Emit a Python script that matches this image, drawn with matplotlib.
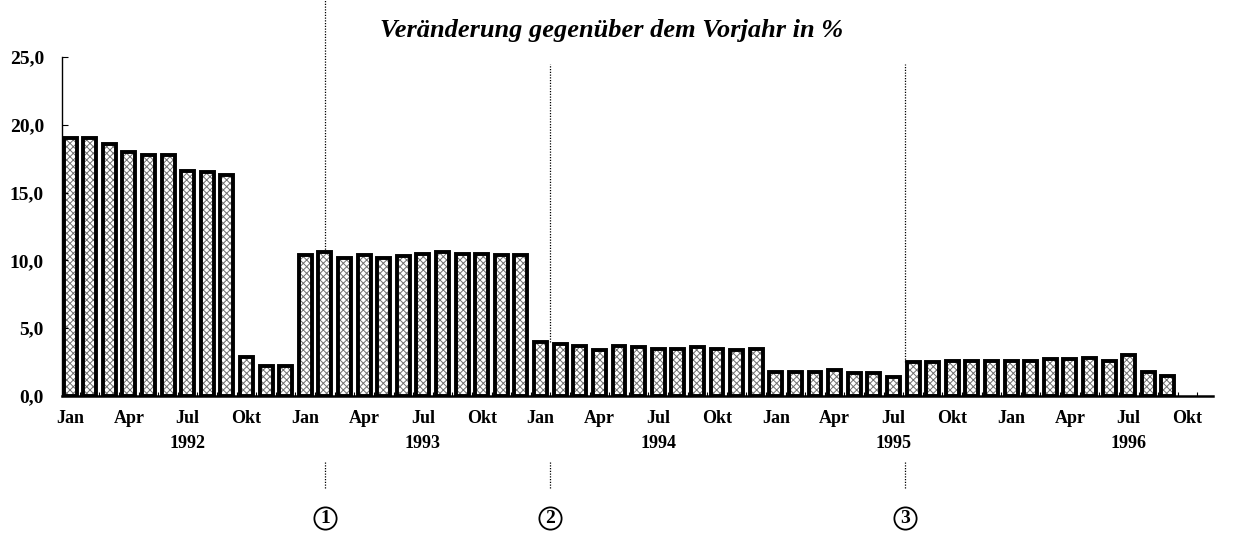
import numpy as np
import matplotlib
matplotlib.use('Agg')
import matplotlib.pyplot as plt

plt.rcParams['font.family'] = ['Liberation Serif', 'DejaVu Serif']
plt.rcParams['hatch.linewidth'] = 0.7

# monthly values, Jan 1992 .. Sep 1996
v1992 = [19.0, 19.0, 18.6, 18.0, 17.8, 17.8, 16.6, 16.5, 16.3, 2.9, 2.2, 2.2]
v1993 = [10.4, 10.6, 10.2, 10.4, 10.2, 10.3, 10.5, 10.6, 10.5, 10.5, 10.4, 10.4]
v1994 = [4.0, 3.8, 3.7, 3.4, 3.7, 3.6, 3.5, 3.5, 3.6, 3.5, 3.4, 3.5]
v1995 = [1.8, 1.8, 1.8, 1.9, 1.7, 1.7, 1.4, 2.5, 2.5, 2.6, 2.6, 2.6]
v1996 = [2.6, 2.6, 2.7, 2.7, 2.8, 2.6, 3.0, 1.8, 1.5]

month_names = ['Jan', 'Apr', 'Jul', 'Okt']
years = ['1992', '1993', '1994', '1995', '1996']
title = 'Veränderung gegenüber dem Vorjahr in %'

# marked events: (month index, label)
markers = [(13.0, '1'), (24.5, '2'), (42.6, '3')]

values = np.array(v1992 + v1993 + v1994 + v1995 + v1996)
x = np.arange(len(values))

fig = plt.figure(figsize=(12.33, 5.35), dpi=100)
ax = fig.add_axes([62/1233, 1-396/535, (1213-62)/1233, (396-57)/535])

ax.bar(x, values, width=0.66, color='white', edgecolor='#707070',
       hatch='xxxxx', linewidth=0)
ax.bar(x, values, width=0.66, fill=False, edgecolor='black', linewidth=2.8)

ax.set_xlim(-0.41, 58.3)
ax.set_ylim(0, 25)

ax.spines['top'].set_visible(False)
ax.spines['right'].set_visible(False)
ax.spines['bottom'].set_linewidth(1.8)
ax.spines['left'].set_linewidth(1.0)

yt = np.arange(0, 26, 5)
ax.set_yticks(yt)
ax.set_yticklabels([f'{v:.1f}'.replace('.', ',') for v in yt],
                   fontsize=14, fontweight='bold')
ax.tick_params(axis='y', direction='in', length=4, pad=13)

xt = np.arange(0, 58, 3)
ax.set_xticks(xt)
ax.set_xticklabels([month_names[i % 4] for i in range(len(xt))],
                   fontsize=13, fontweight='bold')
ax.tick_params(axis='x', length=0, pad=10)
ax.set_xticks(np.arange(0.5, 58, 1), minor=True)
ax.tick_params(axis='x', which='minor', direction='in', length=3, width=0.8)

for i, yr in enumerate(years):
    ax.text(6 + 12*i, -3.5, yr, ha='center', va='center', fontsize=13,
            fontweight='bold', clip_on=False)

# dotted event lines
for (m, lab) in markers:
    top_v = values[int(round(m))]
    ytop = 29.2 if lab == '1' else 24.5
    ax.plot([m, m], [top_v, ytop], color='black', linestyle=(0, (1, 1.2)),
            linewidth=0.9, clip_on=False)
    ax.plot([m, m], [-4.9, -6.8], color='black', linestyle=(0, (1, 1.2)),
            linewidth=0.9, clip_on=False)
    ax.plot([m], [-9.0], marker='o', markersize=16, markerfacecolor='white',
            markeredgecolor='black', markeredgewidth=1.3, clip_on=False)
    ax.text(m, -9.05, lab, ha='center', va='center', fontsize=14,
            fontweight='bold', clip_on=False)

fig.text(612/1233, 1-30/535, title, ha='center', va='center', fontsize=19,
         fontweight='bold', fontstyle='italic')

fig.savefig('out.png', dpi=100)
